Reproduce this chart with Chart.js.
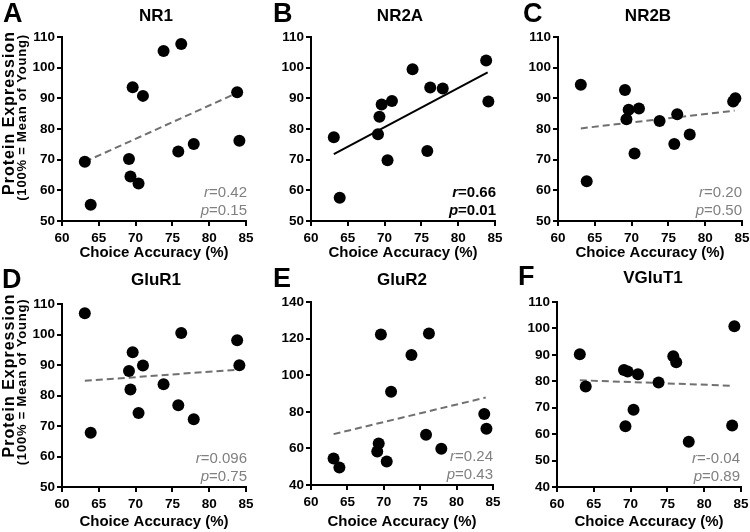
<!DOCTYPE html>
<html lang="en">
<head>
  <meta charset="UTF-8" />
  <title>Protein expression vs choice accuracy</title>
  <script src="https://cdn.jsdelivr.net/npm/chart.js"></script>
  <style>
    body { margin: 0; background: #fff; overflow: hidden; }
    #wrap { position: relative; width: 750px; height: 532px; overflow: hidden; }
    #wrap canvas { position: absolute; }
  </style>
</head>
<body>
<div id="wrap"></div>
<script>
  // x values are shared by every panel (same animals)
  const choiceAccuracy = [63.1, 63.9, 69.1, 69.3, 69.6, 70.4, 71.0, 73.8, 75.8, 76.2, 77.9, 83.8, 84.1];

  const nr1    = [69.3, 55.3, 70.2, 64.5, 93.6, 62.2, 90.8, 105.4, 72.7, 107.7, 75.1, 92.0, 76.2];
  const nr2a   = [77.3, 57.6, 78.3, 84.0, 88.0, 69.8, 89.1, 99.5, 72.8, 93.5, 93.2, 102.3, 89.0];
  const nr2b   = [94.4, 63.0, 92.7, 83.2, 86.3, 72.0, 86.7, 82.6, 75.1, 84.8, 78.2, 89.0, 90.0];
  const glur1  = [107.0, 67.8, 88.0, 82.0, 94.2, 74.3, 89.8, 83.7, 76.8, 100.5, 72.2, 98.1, 89.9];
  const glur2  = [54.5, 49.5, 58.3, 62.7, 122.2, 52.8, 91.0, 111.0, 67.5, 122.8, 59.8, 78.8, 70.8];
  const vglut1 = [90.2, 78.0, 84.3, 63.0, 83.7, 69.2, 82.7, 79.5, 89.5, 87.2, 57.1, 63.3, 100.8];

  // regression line: y at the first and last x
  const fitX = [63.1, 84.0];
  const fitNR1 = [69.3, 92.0];
  const fitNR2A = [71.8, 98.5];
  const fitNR2B = [80.2, 86.0];
  const fitGluR1 = [84.8, 88.5];
  const fitGluR2 = [67.8, 87.8];
  const fitVGluT1 = [80.4, 78.3];

  const xTicks = [60, 85, 5];
  const yTicksStd = [50, 110, 10];
  const yTicksGluR2 = [40, 140, 20];
  const yTicksVGluT1 = [40, 110, 10];

  const FONT = '"Liberation Sans", Arial, Helvetica, sans-serif';
  Chart.defaults.font.family = FONT;
  Chart.defaults.color = '#000';

  const panels = [
    { letter: 'A', title: 'NR1', y: nr1, fit: fitNR1, yt: yTicksStd, r: '0.42', p: '0.15', sig: false,
      col: 0, row: 0, area: [62, 37, 246, 221], xH: 41, letterPos: [3, 15], titlePos: [156, 16], statX: 247,
      yTitle: [113, 117.5] },
    { letter: 'B', title: 'NR2A', y: nr2a, fit: fitNR2A, yt: yTicksStd, r: '0.66', p: '0.01', sig: true,
      col: 1, row: 0, area: [61, 37, 245, 221], xH: 41, letterPos: [23, 15], titlePos: [150, 16], statX: 246 },
    { letter: 'C', title: 'NR2B', y: nr2b, fit: fitNR2B, yt: yTicksStd, r: '0.20', p: '0.50', sig: false,
      col: 2, row: 0, area: [58, 37, 242, 221], xH: 41, letterPos: [23, 15], titlePos: [148, 16], statX: 242 },
    { letter: 'D', title: 'GluR1', y: glur1, fit: fitGluR1, yt: yTicksStd, r: '0.096', p: '0.75', sig: false,
      col: 0, row: 1, area: [62, 38, 246, 221], xH: 44, letterPos: [2, 15], titlePos: [156, 14], statX: 247,
      yTitle: [109.5, 116] },
    { letter: 'E', title: 'GluR2', y: glur2, fit: fitGluR2, yt: yTicksGluR2, r: '0.24', p: '0.43', sig: false,
      col: 1, row: 1, area: [61, 36, 243, 219], xH: 46, letterPos: [23, 14], titlePos: [152, 14], statX: 243 },
    { letter: 'F', title: 'VGluT1', y: vglut1, fit: fitVGluT1, yt: yTicksVGluT1, r: '-0.04', p: '0.89', sig: false,
      col: 2, row: 1, area: [57, 36, 241, 221], xH: 44, letterPos: [18, 12], titlePos: [153, 12], statX: 240 }
  ];

  const CELL_W = 250, CW = 262, CH = 266, YW = 40;

  // letter, title, y-axis title and r / p text
  const panelText = {
    id: 'panelText',
    afterDraw(chart, args, o) {
      const ctx = chart.ctx;
      const area = chart.chartArea;
      ctx.save();
      ctx.fillStyle = '#000';
      ctx.textBaseline = 'middle';

      ctx.textAlign = 'left';
      ctx.font = 'bold 27px ' + FONT;
      ctx.fillText(o.letter, o.letterPos[0], o.letterPos[1]);

      ctx.textAlign = 'center';
      ctx.font = 'bold 17px ' + FONT;
      ctx.fillText(o.title, o.titlePos[0], o.titlePos[1]);

      if (o.yTitle) {
        ctx.save();
        ctx.translate(10, o.yTitle[0]);
        ctx.rotate(-Math.PI / 2);
        ctx.font = 'bold 16px ' + FONT;
        ctx.letterSpacing = '1px';
        ctx.fillText('Protein Expression', 0, 0);
        ctx.restore();
        ctx.save();
        ctx.translate(22, o.yTitle[1]);
        ctx.rotate(-Math.PI / 2);
        ctx.font = 'bold 13px ' + FONT;
        ctx.letterSpacing = '0.8px';
        ctx.fillText('(100% = Mean of Young)', 0, 0);
        ctx.restore();
      }

      const w = o.sig ? 'bold ' : '';
      ctx.fillStyle = o.sig ? '#000' : '#808080';
      ctx.textAlign = 'right';
      [['r', o.r, area.bottom - 28], ['p', o.p, area.bottom - 10]].forEach(([sym, val, yy]) => {
        const s = '=' + val;
        ctx.font = w + '15px ' + FONT;
        ctx.fillText(s, o.statX, yy);
        const sw = ctx.measureText(s).width;
        ctx.font = 'italic ' + w + '15px ' + FONT;
        ctx.fillText(sym, o.statX - sw, yy);
      });
      ctx.restore();
    }
  };

  const axisStyle = {
    grid: { drawOnChartArea: false, tickLength: 5, color: '#000', lineWidth: 2 },
    border: { color: '#000', width: 2 }
  };

  panels.forEach(p => {
    const canvas = document.createElement('canvas');
    canvas.width = CW;
    canvas.height = CH;
    canvas.style.left = (p.col * CELL_W) + 'px';
    canvas.style.top = (p.row * CH) + 'px';
    document.getElementById('wrap').appendChild(canvas);

    const [l, t, r, b] = p.area;

    new Chart(canvas, {
      type: 'scatter',
      data: {
        datasets: [
          {
            data: choiceAccuracy.map((x, i) => ({ x, y: p.y[i] })),
            backgroundColor: '#000',
            borderWidth: 0,
            pointRadius: 6,
            clip: false
          },
          {
            data: fitX.map((x, i) => ({ x, y: p.fit[i] })),
            showLine: true,
            borderColor: p.sig ? '#000' : '#707070',
            borderWidth: 2,
            borderDash: p.sig ? [] : [7, 4],
            pointRadius: 0,
            clip: false
          }
        ]
      },
      options: {
        responsive: false,
        animation: false,
        layout: {
          autoPadding: false,
          padding: { left: l - YW, top: t, right: CW - r, bottom: CH - b - p.xH }
        },
        plugins: {
          legend: { display: false },
          tooltip: { enabled: false },
          panelText: p
        },
        scales: {
          x: {
            type: 'linear',
            min: xTicks[0], max: xTicks[1],
            ticks: { stepSize: xTicks[2], padding: 4, maxRotation: 0, autoSkip: false,
                     font: { size: 13.5, weight: 'bold' }, color: '#000' },
            title: { display: true, text: 'Choice Accuracy (%)', padding: 0,
                     font: { size: 15, weight: 'bold' }, color: '#000' },
            ...axisStyle,
            afterFit(s) { s.height = p.xH; s.paddingLeft = 0; s.paddingRight = 0; }
          },
          y: {
            min: p.yt[0], max: p.yt[1],
            ticks: { stepSize: p.yt[2], padding: 2, font: { size: 13.5, weight: 'bold' }, color: '#000' },
            ...axisStyle,
            afterFit(s) { s.width = YW; s.paddingTop = 0; s.paddingBottom = 0; }
          }
        }
      },
      plugins: [panelText]
    });
  });
</script>
</body>
</html>
